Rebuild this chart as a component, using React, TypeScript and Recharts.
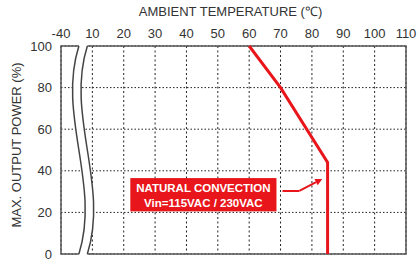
import React from 'react';
import {
  ComposedChart,
  Line,
  XAxis,
  YAxis,
  CartesianGrid,
  ReferenceArea,
  ReferenceLine,
  Label,
} from 'recharts';

// x axis is drawn with a break: the "-40" tick sits one grid step left of "10"
const xTickPositions = [0, 10, 20, 30, 40, 50, 60, 70, 80, 90, 100, 110];
const xTickLabels = ['-40', '10', '20', '30', '40', '50', '60', '70', '80', '90', '100', '110'];
const xMinorTicks = [10, 15, 20, 25, 30, 35, 40, 45, 50, 55, 60, 65, 70, 75, 80, 85, 90, 95, 100, 105];
const yTicks = [0, 20, 40, 60, 80, 100];
const yMinorTicks = [0, 5, 10, 15, 20, 25, 30, 35, 40, 45, 50, 55, 60, 65, 70, 75, 80, 85, 90, 95, 100];

// derating curve (ambient temperature °C vs max output power %)
const deratingTemps = [60, 70, 85, 85];
const deratingPower = [100, 80, 44, 0];

// annotation
const noteLines = ['NATURAL CONVECTION', 'Vin=115VAC / 230VAC'];
const noteBoxX = [22.1, 68.7];
const noteBoxY = [20.5, 36.5];
const arrowX = [70.6, 76.0, 83.3];
const arrowY = [30.3, 30.3, 36.1];
const breakX = [0, 10];

const data = deratingTemps.map((t, i) => ({ temp: t, power: deratingPower[i] }));

const RED = '#e8161b';
const TEXT = '#333';

const BreakShape = (p: any) => {
  const { x, y, width: w, height: h } = p;
  const xl = x + w * 0.57;
  const xr = x + w * 0.84;
  const k = 22;
  const t = y;
  const b = y + h;
  const curve = (x0: number) => `M${x0},${t} C${x0 - k},${t + h / 3} ${x0 + k},${t + (2 * h) / 3} ${x0},${b}`;
  const fill = `M${xl},${t - 2} L${xl},${t} C${xl - k},${t + h / 3} ${xl + k},${t + (2 * h) / 3} ${xl},${b} L${xl},${b + 2} L${xr},${b + 2} L${xr},${b} C${xr + k},${t + (2 * h) / 3} ${xr - k},${t + h / 3} ${xr},${t} L${xr},${t - 2} Z`;
  return (
    <g>
      <path d={fill} fill="#fff" stroke="none" />
      <path d={curve(xl)} fill="none" stroke="#444" strokeWidth={1.5} />
      <path d={curve(xr)} fill="none" stroke="#444" strokeWidth={1.5} />
    </g>
  );
};

const NoteShape = (p: any) => {
  const { x, y, width: w, height: h } = p;
  return (
    <g>
      <rect x={x} y={y} width={w} height={h} fill={RED} />
      <text x={x + w / 2} y={y + h * 0.3} textAnchor="middle" dominantBaseline="central" fill="#fff" fontSize={11.5} fontWeight="bold">
        {noteLines[0]}
      </text>
      <text x={x + w / 2} y={y + h * 0.76} textAnchor="middle" dominantBaseline="central" fill="#fff" fontSize={11.5} fontWeight="bold">
        {noteLines[1]}
      </text>
    </g>
  );
};

const ArrowShape = (p: any) => {
  const { x1, y1, x2, y2 } = p;
  const ang = Math.atan2(y2 - y1, x2 - x1);
  const L = 7;
  const W = 3.5;
  const c = Math.cos(ang);
  const s = Math.sin(ang);
  const bx = x2 - L * c;
  const by = y2 - L * s;
  return (
    <g>
      <line x1={x1} y1={y1} x2={bx} y2={by} stroke={RED} strokeWidth={2} />
      <polygon points={`${x2},${y2} ${bx + W * s},${by - W * c} ${bx - W * s},${by + W * c}`} fill={RED} />
    </g>
  );
};

const YTitle = (props: any) => {
  const vb = props.viewBox || { y: 46, height: 208 };
  const cx = 16;
  const cy = vb.y + vb.height / 2 - 5;
  return (
    <text x={cx} y={cy} transform={`rotate(-90 ${cx} ${cy})`} textAnchor="middle" dominantBaseline="central" fill={TEXT} fontSize={13}>
      MAX. OUTPUT POWER (%)
    </text>
  );
};

const NoTick = () => <g />;

export default function App() {
  return (
    <div style={{ position: 'absolute', left: 0, top: 0, fontFamily: '"Liberation Sans", Arial, sans-serif' }}>
      <ComposedChart width={418} height={262} data={data} margin={{ top: 0, right: 12, bottom: 8, left: 0 }}>
        <XAxis
          type="number"
          dataKey="temp"
          orientation="top"
          domain={[0, 110]}
          ticks={xTickPositions}
          tickFormatter={(v: number) => xTickLabels[xTickPositions.indexOf(v)]}
          height={46}
          axisLine={false}
          tickLine={false}
          tickSize={6}
          tickMargin={2}
          tick={{ fill: TEXT, fontSize: 13 }}
          interval={0}
        >
          <Label value="AMBIENT TEMPERATURE (℃)" position="insideTop" offset={7} dx={-3} fill={TEXT} fontSize={13} />
        </XAxis>
        <XAxis
          xAxisId="mx"
          type="number"
          orientation="top"
          mirror
          domain={[0, 110]}
          ticks={xMinorTicks}
          axisLine={false}
          tickSize={3}
          tick={NoTick}
          tickLine={{ stroke: '#555' }}
          interval={0}
        />
        <YAxis
          type="number"
          domain={[0, 100]}
          ticks={yTicks}
          width={61}
          axisLine={false}
          tickLine={false}
          tickSize={7}
          tickMargin={2}
          tick={{ fill: TEXT, fontSize: 13 }}
          interval={0}
        >
          <Label content={YTitle} />
        </YAxis>
        <YAxis
          yAxisId="my"
          type="number"
          mirror
          domain={[0, 100]}
          ticks={yMinorTicks}
          axisLine={false}
          tickSize={3}
          tick={NoTick}
          tickLine={{ stroke: '#555' }}
          interval={0}
        />
        <CartesianGrid vertical={false} stroke="#222" strokeDasharray="1.5 2" />
        <CartesianGrid horizontal={false} stroke="#222" strokeDasharray="2 2.5" />
        <ReferenceArea x1={0} x2={110} y1={0} y2={100} fill="none" fillOpacity={0} stroke="#555" strokeWidth={1.5} />
        <ReferenceArea x1={breakX[0]} x2={breakX[1]} y1={0} y2={100} shape={BreakShape} />
        <Line
          type="linear"
          dataKey="power"
          stroke={RED}
          strokeWidth={3}
          dot={false}
          isAnimationActive={false}
        />
        <ReferenceArea x1={noteBoxX[0]} x2={noteBoxX[1]} y1={noteBoxY[0]} y2={noteBoxY[1]} shape={NoteShape} />
        <ReferenceLine
          segment={[
            { x: arrowX[0], y: arrowY[0] },
            { x: arrowX[1], y: arrowY[1] },
          ]}
          stroke={RED}
          strokeWidth={2}
        />
        <ReferenceLine
          segment={[
            { x: arrowX[1], y: arrowY[1] },
            { x: arrowX[2], y: arrowY[2] },
          ]}
          shape={ArrowShape}
        />
      </ComposedChart>
    </div>
  );
}
